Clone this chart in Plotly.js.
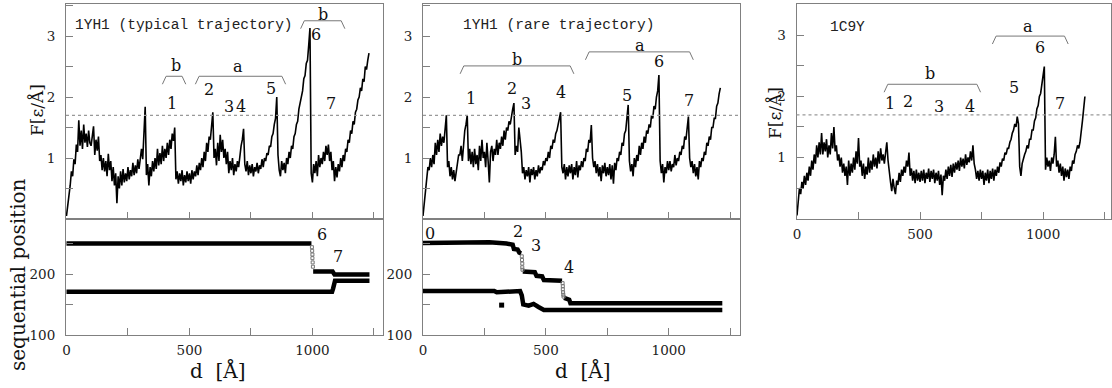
<!DOCTYPE html>
<html><head><meta charset="utf-8">
<script src="https://cdn.plot.ly/plotly-3.0.1.min.js"></script>
<style>html,body{margin:0;padding:0;background:#fff}#chart{width:1112px;height:388px}</style>
</head><body><div id="chart"></div>
<script>
// ---------- DATA ----------
const STEP = 5; // sampling of the force traces, in Å
const forceTypical = [
 0.05,0.20,0.40,0.55,0.78,0.70,0.98,0.90,1.22,1.10,
 1.62,1.20,1.45,1.15,1.55,1.25,1.40,1.18,1.45,1.25,
 1.20,1.35,1.52,1.05,1.30,1.12,1.35,0.95,1.05,0.80,
 1.00,0.78,0.95,0.70,1.07,0.80,0.95,0.62,0.85,0.55,
 0.75,0.26,0.70,0.50,0.78,0.55,0.82,0.60,0.75,0.62,
 0.85,0.65,0.80,0.70,0.92,0.72,0.88,0.75,0.98,0.82,
 1.05,1.15,0.98,1.40,1.84,0.72,0.90,0.55,0.85,0.70,
 0.95,0.78,1.00,0.82,1.15,0.88,1.08,0.90,1.20,0.95,
 1.15,1.00,1.25,1.05,1.30,1.15,1.40,1.28,1.50,0.65,
 0.78,0.58,0.75,0.62,0.80,0.55,0.72,0.60,0.78,0.62,
 0.75,0.58,0.80,0.65,0.78,0.70,0.88,0.72,0.92,0.80,
 1.00,0.85,1.10,0.95,1.25,1.10,1.35,1.30,1.55,1.75,
 1.00,1.15,0.88,1.25,0.95,1.38,1.10,1.30,1.00,1.15,
 0.90,1.10,0.75,0.95,0.80,1.00,0.72,0.90,0.78,0.95,
 0.85,1.10,1.20,1.30,1.48,0.90,0.78,0.95,0.72,0.88,
 0.75,0.90,0.70,0.85,0.78,0.92,0.75,0.88,0.82,0.98,
 0.85,1.00,0.95,1.08,1.05,1.20,1.18,1.35,1.40,1.55,
 1.65,2.00,1.05,0.80,0.70,0.95,0.80,0.92,0.75,1.00,
 0.90,1.10,1.00,1.20,1.15,1.35,1.40,1.55,1.60,1.80,
 1.90,2.05,2.10,2.30,2.35,2.55,2.60,2.85,3.13,0.75,
 0.60,0.90,0.75,0.95,0.70,1.05,0.85,1.00,0.90,1.10,
 0.95,1.20,1.05,1.22,0.95,1.10,0.80,0.95,0.62,0.85,
 0.68,0.90,0.78,1.00,0.85,1.05,0.95,1.15,1.10,1.30,
 1.25,1.45,1.40,1.60,1.55,1.75,1.80,1.95,2.00,2.15,
 2.10,2.30,2.25,2.50,2.45,2.60,2.72];
const forceRare = [
 0.05,0.25,0.45,0.65,0.85,0.80,1.00,0.85,1.05,0.90,
 1.25,1.05,1.30,1.10,1.40,1.20,1.35,1.25,1.50,1.70,
 0.85,0.95,0.70,0.85,0.65,0.80,0.62,0.78,0.90,1.05,
 1.05,1.20,0.95,1.30,1.45,1.55,1.70,0.95,1.15,0.90,
 1.10,0.85,1.15,0.90,1.05,0.80,1.20,0.95,1.30,1.00,
 1.10,0.85,1.25,0.95,0.60,1.10,1.20,0.95,1.15,1.05,
 1.30,1.05,1.25,1.15,1.35,1.20,1.45,1.30,1.50,1.45,
 1.60,1.55,1.70,1.80,1.90,1.05,1.20,1.10,1.50,1.30,
 1.10,0.75,0.85,0.65,0.80,0.70,0.85,0.60,0.82,0.72,
 0.85,0.65,0.80,0.70,0.88,0.75,0.85,0.80,0.95,0.88,
 1.00,0.95,1.10,1.00,1.20,1.15,1.30,1.25,1.40,1.45,
 1.55,1.60,1.75,0.85,0.75,0.90,0.65,0.85,0.70,0.88,
 0.75,0.90,0.65,0.85,0.72,0.95,0.68,0.88,0.80,0.95,
 0.85,1.00,0.95,1.15,1.10,1.30,1.25,1.54,1.00,0.85,
 0.95,0.75,0.90,0.70,0.85,0.62,0.88,0.75,0.92,0.70,
 0.85,0.72,0.90,0.65,0.88,0.58,0.92,0.80,1.00,0.95,
 1.10,1.05,1.25,1.20,1.40,1.45,1.65,1.87,0.95,0.78,
 0.90,0.70,1.00,0.85,1.05,0.95,1.20,1.05,1.25,1.15,
 1.35,1.25,1.45,1.40,1.55,1.50,1.70,1.65,1.85,1.80,
 2.00,2.10,2.36,0.95,0.75,0.90,0.60,0.85,0.75,0.95,
 0.80,0.95,0.78,0.90,0.85,1.05,0.88,1.00,0.95,1.10,
 1.05,1.20,1.15,1.35,1.30,1.50,1.68,1.00,0.85,0.95,
 0.75,0.90,0.70,0.85,0.65,0.95,0.85,1.00,0.95,1.10,
 1.05,1.25,1.20,1.35,1.30,1.50,1.50,1.65,1.65,1.85,
 1.90,2.05,2.15];
const force1C9Y = [
 0.05,0.30,0.50,0.40,0.60,0.50,0.70,0.55,0.75,0.62,
 0.85,0.70,0.95,0.80,1.05,0.90,1.20,1.00,1.25,1.05,
 1.40,1.05,1.25,1.10,1.30,1.00,1.20,1.05,1.40,1.15,
 1.50,1.10,1.20,0.95,1.05,0.85,1.00,0.75,0.90,0.70,
 0.85,0.55,0.95,0.70,0.90,0.75,1.00,0.80,1.10,0.90,
 1.32,0.85,0.95,0.70,0.90,0.65,0.85,0.72,1.00,0.75,
 0.95,0.80,1.05,0.85,1.00,0.82,1.10,0.90,1.15,0.95,
 1.05,0.90,1.15,1.25,0.95,0.70,0.60,0.45,0.65,0.50,
 0.40,0.62,0.55,0.75,0.60,0.80,0.70,0.85,0.75,0.95,
 0.85,1.08,0.70,0.82,0.62,0.78,0.58,0.80,0.62,0.75,
 0.60,0.78,0.62,0.80,0.58,0.75,0.65,0.82,0.60,0.78,
 0.65,0.80,0.58,0.75,0.62,0.78,0.55,0.72,0.38,0.70,
 0.62,0.80,0.65,0.85,0.70,0.88,0.68,0.90,0.75,0.92,
 0.80,0.95,0.78,1.00,0.85,0.98,0.82,1.05,0.88,1.00,
 0.92,1.10,0.95,1.20,0.90,0.80,0.65,0.78,0.62,0.80,
 0.65,0.78,0.55,0.75,0.62,0.80,0.58,0.78,0.65,0.82,
 0.62,0.80,0.70,0.85,0.75,0.92,0.85,0.98,0.95,1.08,
 1.05,1.15,1.15,1.25,1.30,1.40,1.45,1.55,1.50,1.67,
 1.55,0.85,0.70,0.90,1.00,1.05,1.10,1.20,1.15,1.30,
 1.30,1.45,1.45,1.60,1.65,1.80,1.85,2.00,2.05,2.20,
 2.30,2.49,0.80,1.00,0.85,0.95,0.78,1.00,0.90,1.05,
 1.34,0.85,0.95,0.75,0.90,0.70,0.85,0.62,0.82,0.68,
 0.80,0.65,0.85,0.78,0.95,0.90,1.05,1.10,1.20,1.15,
 1.25,1.40,1.60,1.80,2.00];
const threshold = 1.7;

// sequential positions (lower panels)
const typUpperD = [0,996,null,1003,1082,1090,1232];
const typUpperV = [250,250,null,204,204,199,199];
const typUpperTransD = [998,999,1000,1000,1001,1002];
const typUpperTransV = [244,238,232,226,219,212];
const typLowerD = [0,1080,1084,1088,1092,1232];
const typLowerV = [171,171,176,184,189,189];

const rareUpperD = [0,250,270,340,365,370,385,392,400,null,406,455,462,485,492,566,null,574,595,600,1218];
const rareUpperV = [251,251,252,250,248,241,240,235,234,null,204,203,197,196,190,189,null,161,158,152,152];
const rareUpperTransD = [402,403,404,404,405,568,569,569,570,571,572];
const rareUpperTransV = [229,223,217,211,207,185,180,175,170,166,163];
const rareLowerD = [0,290,300,395,402,408,430,450,470,485,492,1218];
const rareLowerV = [172,172,170,172,165,150,148,151,146,143,141,141];
const rareStrayD = [320];
const rareStrayV = [149];

// labels
const titles = ['1YH1 (typical trajectory)','1YH1 (rare trajectory)','1C9Y'];
const titlePos = [[28,3.18],[155,3.18],[126,3.14]];
const peakLabels = [
 [['1',430,1.89],['2',578,2.13],['3',660,1.84],['4',711,1.84],['5',832,2.14],['6',1016,3.02],['7',1077,1.89]],
 [['1',194,1.97],['2',361,2.14],['3',419,1.90],['4',560,2.08],['5',829,2.03],['6',962,2.59],['7',1084,1.95]],
 [['1',378,1.89],['2',450,1.91],['3',578,1.84],['4',704,1.84],['5',881,2.15],['6',988,2.81],['7',1070,1.88]]
];
// brackets: [label, start, end, level, labelX, labelY]
const brackets = [
 [['b',390,485,2.34,446,2.52],['a',524,891,2.34,696,2.50],['b',952,1132,3.25,1043,3.36]],
 [['b',151,614,2.51,382,2.61],['a',661,1100,2.74,883,2.84]],
 [['b',354,746,2.20,542,2.37],['a',794,1102,2.99,938,3.14]]
];
const seqLabels = [
 [['6',1039,264],['7',1106,228]],
 [['0',28,267],['2',387,269],['3',460,246],['4',594,210]]
];

// ---------- LAYOUT ----------
const W=1112,H=388;
const px=p=>p/W, py=p=>1-p/H;
const AX='#808080';
const tickFont={family:'DejaVu Serif',size:13.5,color:'#222'};
const lblFont={family:'DejaVu Serif',size:16,color:'#111'};

function xAxis(domain, range, anchor, labels){
  return {domain, range, anchor, showline:true, mirror:true, linecolor:AX, linewidth:1,
    ticks:'inside', ticklen:7, tickcolor:AX, tickwidth:1,
    tickvals:[0,250,500,750,1000,1250], ticktext:['0','','500','','1000',''],
    showticklabels:labels, ticklabelstandoff:3, showgrid:false, zeroline:false, tickfont:tickFont, fixedrange:true};
}
function yAxis(domain, range, anchor, vals, text){
  return {domain, range, anchor, showline:true, mirror:true, linecolor:AX, linewidth:1,
    ticks:'inside', ticklen:7, tickcolor:AX, tickwidth:1,
    tickvals:vals, ticktext:text, ticklabelstandoff:7, showgrid:false, zeroline:false, tickfont:tickFont, fixedrange:true};
}
const fVals=[0.5,1,1.5,2,2.5,3,3.5], fText=['','1','','2','','3',''];
const sVals=[100,150,200,250], sText=['100','','200',''];

const xd1=[px(66),px(383)], xd2=[px(423),px(740)], xd3=[px(796.5),px(1111)];
const ydTop=[py(219),py(4)], ydBot=[py(335),py(219)], ydTop3=[py(218.5),py(4)];

const layout={
  width:W,height:H,margin:{l:0,r:0,t:0,b:0},showlegend:false,hovermode:false,
  paper_bgcolor:'#fff',plot_bgcolor:'#fff',
  xaxis:xAxis(xd1,[-2,1287],'y',false), yaxis:yAxis(ydTop,[0,3.525],'x',fVals,fText),
  xaxis2:xAxis(xd1,[-2,1287],'y2',true), yaxis2:yAxis(ydBot,[100,290.2],'x2',sVals,sText),
  xaxis3:xAxis(xd2,[0,1290],'y3',false), yaxis3:yAxis(ydTop,[0,3.525],'x3',fVals,fText),
  xaxis4:xAxis(xd2,[0,1290],'y4',true), yaxis4:yAxis(ydBot,[100,290.2],'x4',sVals,sText),
  xaxis5:xAxis(xd3,[-2,1276],'y5',true), yaxis5:yAxis(ydTop3,[0,3.516],'x5',fVals,fText),
  shapes:[], annotations:[]
};
function ann(o){ layout.annotations.push(Object.assign({showarrow:false,xanchor:'center',yanchor:'middle'},o)); }

const topAxes=[['x','y'],['x3','y3'],['x5','y5']];
const traces=[];
const forces=[forceTypical,forceRare,force1C9Y];
forces.forEach((f,i)=>{
  const [xa,ya]=topAxes[i];
  traces.push({type:'scatter',mode:'lines',x:f.map((_,k)=>k*STEP),y:f,xaxis:xa,yaxis:ya,
    line:{color:'#000',width:1.6}});
  layout.shapes.push({type:'line',xref:xa+' domain',yref:ya,x0:0,x1:1,y0:threshold,y1:threshold,
    line:{color:'#999',width:1.3,dash:'dot'}});
  ann({xref:xa,yref:ya,x:titlePos[i][0],y:titlePos[i][1],text:titles[i],xanchor:'left',
    font:{family:'Liberation Mono',size:14.5,color:'#222'}});
  peakLabels[i].forEach(([t,x,y])=>ann({xref:xa,yref:ya,x,y,text:t,font:lblFont}));
  brackets[i].forEach(([t,a,b,lv,lx,ly])=>{
    traces.push({type:'scatter',mode:'lines',x:[a,a+15,b-15,b],y:[lv-0.13,lv,lv,lv-0.13],xaxis:xa,yaxis:ya,
      line:{color:'#777',width:1}});
    ann({xref:xa,yref:ya,x:lx,y:ly,text:t,font:lblFont});
  });
});

// sequential-position panels
function seq(d,v,xa,ya){traces.push({type:'scatter',mode:'lines',x:d,y:v,xaxis:xa,yaxis:ya,connectgaps:false,
  line:{color:'#000',width:4.5}});}
function trans(d,v,xa,ya){traces.push({type:'scatter',mode:'markers',x:d,y:v,xaxis:xa,yaxis:ya,
  marker:{symbol:'square-open',size:3,color:'#777',line:{width:1}}});}
seq(typUpperD,typUpperV,'x2','y2'); trans(typUpperTransD,typUpperTransV,'x2','y2'); seq(typLowerD,typLowerV,'x2','y2');
seq(rareUpperD,rareUpperV,'x4','y4'); trans(rareUpperTransD,rareUpperTransV,'x4','y4'); seq(rareLowerD,rareLowerV,'x4','y4');
traces.push({type:'scatter',mode:'markers',x:rareStrayD,y:rareStrayV,xaxis:'x4',yaxis:'y4',marker:{symbol:'square',size:5,color:'#000'}});
[['x2','y2'],['x4','y4']].forEach(([xa,ya],i)=>seqLabels[i].forEach(([t,x,y])=>
  ann({xref:xa,yref:ya,x,y,text:t,font:lblFont})));

// axis titles
const tFont={family:'DejaVu Serif',size:17,color:'#111'};
const bFont={family:'DejaVu Serif',size:20,color:'#111'};
ann({xref:'paper',yref:'paper',x:px(37),y:py(110),text:'F[ε/Å]',textangle:-90,font:tFont});
ann({xref:'paper',yref:'paper',x:px(775),y:py(113),text:'F[ε/Å]',textangle:-90,font:tFont});
ann({xref:'paper',yref:'paper',x:px(18),y:py(275),text:'sequential position',textangle:-90,font:bFont});
ann({xref:'paper',yref:'paper',x:px(218),y:py(370),text:'d  [Å]',font:bFont});
ann({xref:'paper',yref:'paper',x:px(583),y:py(370),text:'d  [Å]',font:bFont});

Plotly.newPlot('chart',traces,layout,{staticPlot:true,displayModeBar:false});
</script></body></html>
